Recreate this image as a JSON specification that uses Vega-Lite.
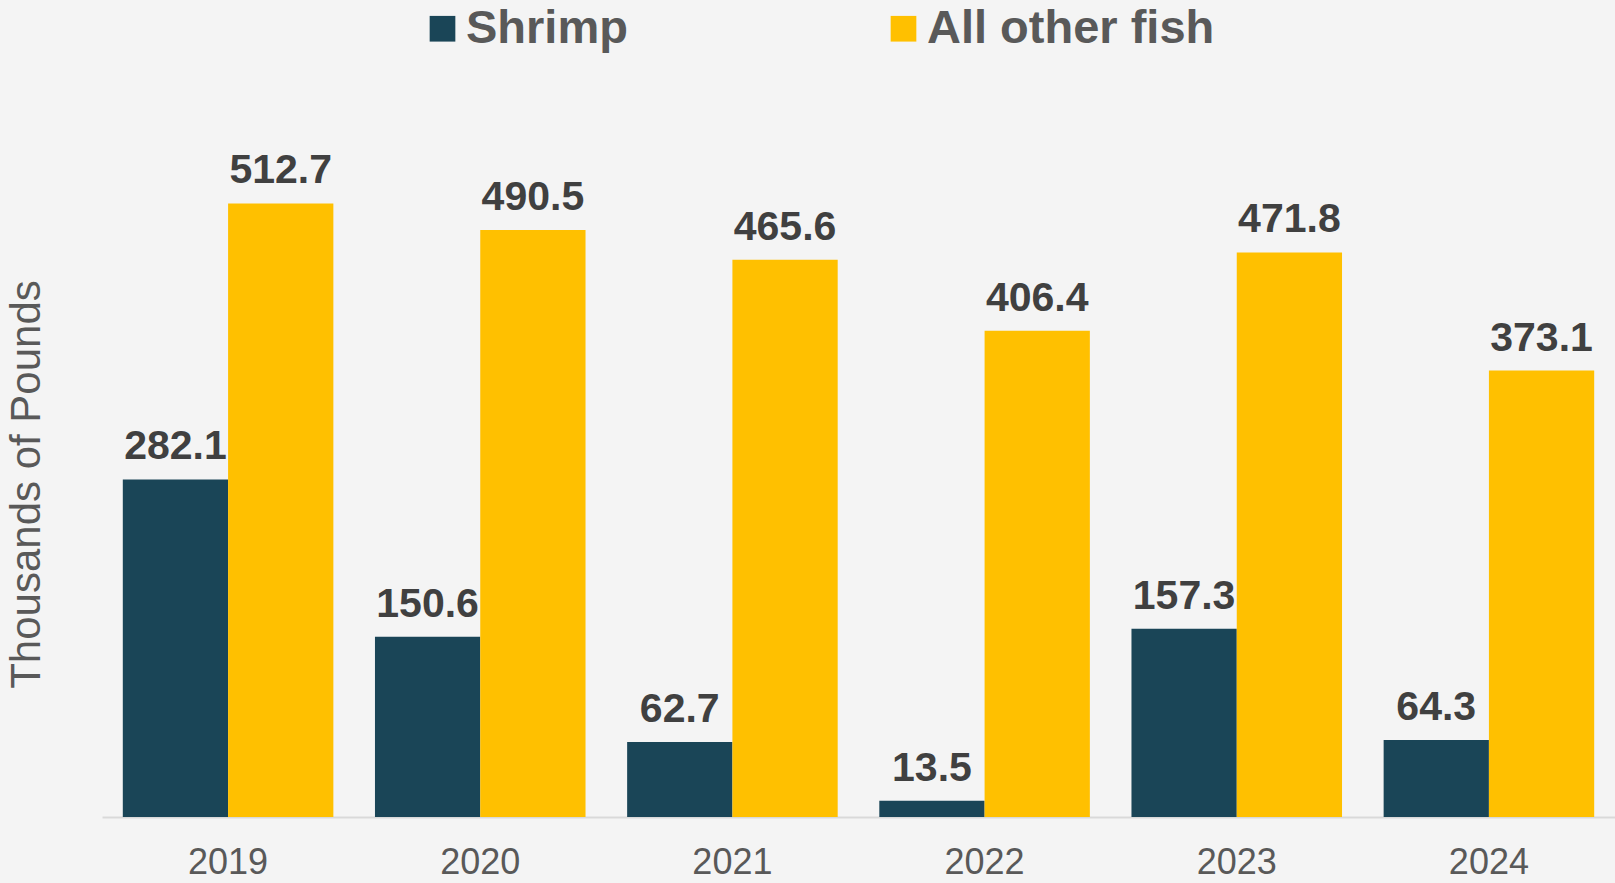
{
  "$schema": "https://vega.github.io/schema/vega-lite/v6.json",
  "autosize": {"type": "none"},
  "width": 1513,
  "height": 718,
  "padding": {"left": 102, "top": 99, "right": 0, "bottom": 66},
  "background": "#f4f4f4",
  "config": {
    "view": {"stroke": null},
    "font": "Liberation Sans"
  },
  "data": {
    "values": [
      {"year": "2019", "series": "Shrimp", "value": 282.1},
      {"year": "2019", "series": "All other fish", "value": 512.7},
      {"year": "2020", "series": "Shrimp", "value": 150.6},
      {"year": "2020", "series": "All other fish", "value": 490.5},
      {"year": "2021", "series": "Shrimp", "value": 62.7},
      {"year": "2021", "series": "All other fish", "value": 465.6},
      {"year": "2022", "series": "Shrimp", "value": 13.5},
      {"year": "2022", "series": "All other fish", "value": 406.4},
      {"year": "2023", "series": "Shrimp", "value": 157.3},
      {"year": "2023", "series": "All other fish", "value": 471.8},
      {"year": "2024", "series": "Shrimp", "value": 64.3},
      {"year": "2024", "series": "All other fish", "value": 373.1}
    ]
  },
  "encoding": {
    "x": {
      "field": "year",
      "type": "nominal",
      "scale": {"paddingInner": 0.165, "paddingOuter": 0.0825},
      "axis": {
        "title": null,
        "labelAngle": 0,
        "labelFontSize": 36,
        "labelColor": "#595959",
        "labelFont": "Liberation Sans",
        "ticks": false,
        "tickSize": 0,
        "labelPadding": 28,
        "domainColor": "#d9d9d9",
        "domainWidth": 2,
        "grid": false
      }
    },
    "xOffset": {
      "field": "series",
      "type": "nominal",
      "sort": ["Shrimp", "All other fish"],
      "scale": {"paddingInner": 0, "paddingOuter": 0}
    },
    "y": {
      "field": "value",
      "type": "quantitative",
      "scale": {"domain": [0, 600], "nice": false},
      "axis": {
        "title": "Thousands of Pounds",
        "titleFontSize": 42,
        "titleFontWeight": "normal",
        "titleColor": "#595959",
        "titleFont": "Liberation Sans",
        "titlePadding": 54,
        "titleY": 385,
        "labels": false,
        "ticks": false,
        "domain": false,
        "grid": false
      }
    }
  },
  "layer": [
    {
      "mark": {"type": "bar"},
      "encoding": {
        "color": {
          "field": "series",
          "type": "nominal",
          "sort": ["Shrimp", "All other fish"],
          "scale": {"domain": ["Shrimp", "All other fish"], "range": ["#1a4557", "#ffc000"]},
          "legend": {
            "title": null,
            "orient": "none",
            "direction": "horizontal",
            "legendX": 317,
            "legendY": -94,
            "symbolType": "square",
            "symbolSize": 660,
            "symbolStrokeWidth": 0,
            "labelFontSize": 47,
            "labelFontWeight": "bold",
            "labelColor": "#595959",
            "labelFont": "Liberation Sans",
            "labelOffset": 0,
            "labelLimit": 0,
            "columnPadding": 252
          }
        }
      }
    },
    {
      "mark": {
        "type": "text",
        "baseline": "alphabetic",
        "align": "center",
        "dy": -20,
        "fontSize": 41,
        "fontWeight": "bold",
        "color": "#404040",
        "font": "Liberation Sans"
      },
      "encoding": {
        "text": {"field": "value", "type": "quantitative", "format": ".1f"}
      }
    }
  ]
}
